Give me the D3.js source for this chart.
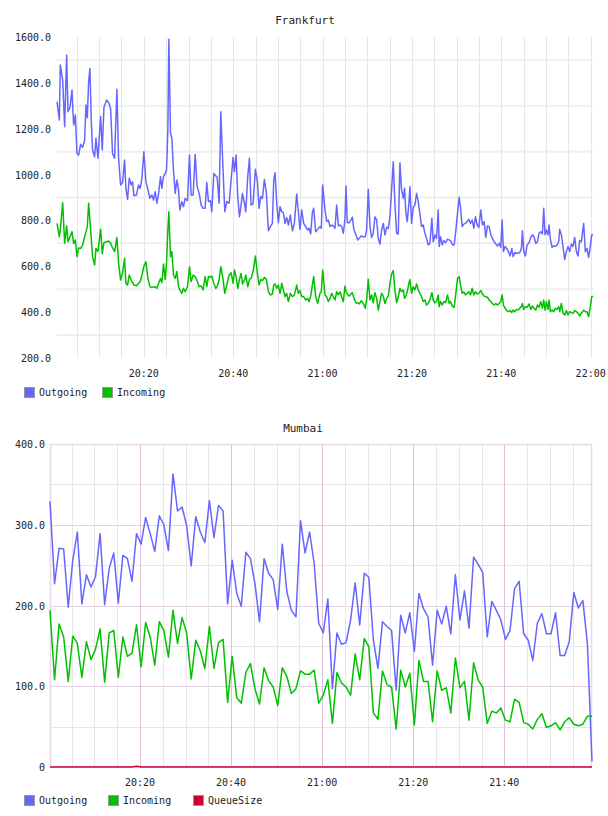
<!DOCTYPE html>
<html>
<head>
<meta charset="utf-8">
<script src="https://cdn.jsdelivr.net/npm/d3@7"></script>
<style>
body { margin: 0; background: #fff; }
text { font-family: "DejaVu Sans Mono", monospace; fill: #222; }
</style>
</head>
<body>
<svg id="chart" width="608" height="816"></svg>
<script>
// ---- Frankfurt: sample time (minutes after 20:00) and rates
const fraMinutes = [
  0.57,1.09,1.31,1.84,2.28,2.73,3.03,3.48,3.92,4.29,
  4.67,5.04,5.41,5.86,6.31,6.75,7.05,7.35,7.65,7.94,
  8.24,8.54,8.99,9.29,9.73,10.33,10.70,11.07,11.67,12.12,
  12.56,13.01,13.46,13.98,14.35,14.80,15.25,15.69,15.99,16.36,
  16.74,17.18,17.48,17.78,18.37,18.82,19.19,19.57,20.01,20.46,
  20.91,21.36,21.80,22.17,22.55,22.92,23.29,23.74,24.04,24.41,
  24.78,25.08,25.38,25.60,25.97,26.27,26.64,27.02,27.39,27.76,
  28.06,28.51,28.88,29.25,29.77,30.22,30.59,31.04,31.49,31.93,
  32.38,32.83,33.27,33.72,34.09,34.47,34.91,35.21,35.66,36.10,
  36.40,36.85,37.22,37.67,38.12,38.56,39.09,39.53,39.98,40.28,
  40.65,41.02,41.40,41.77,42.07,42.51,42.81,43.26,43.63,44.00,
  44.45,44.97,45.42,45.79,46.17,46.54,46.98,47.43,47.88,48.32,
  48.77,49.07,49.37,49.74,50.11,50.48,50.86,51.23,51.60,51.97,
  52.35,52.79,53.24,53.69,54.21,54.58,54.95,55.33,55.77,56.22,
  56.67,56.97,57.34,57.71,58.01,58.46,58.90,59.42,59.72,60.02,
  60.55,60.92,61.29,61.67,62.04,62.41,62.78,63.16,63.53,63.90,
  64.27,64.65,65.02,65.24,65.54,65.99,66.36,66.66,67.03,67.48,
  67.85,68.22,68.67,69.12,69.56,69.86,70.23,70.61,70.98,71.35,
  71.72,72.10,72.47,72.84,73.21,73.59,73.96,74.33,74.70,75.08,
  75.45,75.82,76.19,76.57,76.94,77.31,77.68,78.06,78.35,78.65,
  78.95,79.32,79.55,79.92,80.29,80.66,81.04,81.41,81.78,82.15,
  82.53,82.90,83.27,83.64,84.02,84.46,84.76,85.13,85.51,85.88,
  86.10,86.40,86.77,87.14,87.52,87.96,88.34,88.63,89.08,89.45,
  89.83,90.20,90.57,90.87,91.24,91.61,91.99,92.36,92.73,93.10,
  93.48,93.85,94.22,94.59,94.97,95.41,95.79,96.16,96.53,96.90,
  97.28,97.65,98.02,98.39,98.77,99.14,99.51,99.88,100.18,100.48,
  100.85,101.22,101.60,101.97,102.34,102.64,103.01,103.39,103.76,104.13,
  104.50,104.73,105.02,105.40,105.77,106.22,106.59,106.96,107.33,107.71,
  108.08,108.45,108.82,109.20,109.49,109.79,110.09,110.46,110.69,110.98,
  111.36,111.73,112.10,112.47,112.85,113.07,113.44,113.82,114.19,114.56,
  114.93,115.31,115.68,116.05,116.42,116.80,117.17,117.54,117.91,118.43,
  118.81,119.18,119.55,119.92,120.22,120.52
];
const fraOutgoing = [
  1318,1238,1478,1412,1209,1521,1274,1293,1369,1216,
  1260,1093,1085,1132,1119,1148,1303,1248,1405,1463,
  1231,1107,1078,1158,1071,1253,1107,1293,1325,1314,
  1289,1090,1071,1372,1071,955,965,1064,940,892,
  984,955,969,908,911,955,940,984,1100,969,
  936,896,911,889,925,875,915,991,940,991,
  1005,1020,1194,1590,1180,1158,1020,918,976,936,
  846,882,860,896,886,1085,911,911,1088,947,
  918,867,853,853,965,882,886,838,1005,994,
  991,875,1274,1049,838,882,875,976,1075,1013,
  1085,904,816,867,918,875,838,991,1071,867,
  872,1023,969,853,904,896,979,918,755,773,
  787,976,1008,875,790,860,838,834,787,813,
  780,824,755,787,915,838,761,846,787,773,
  758,766,741,834,853,751,761,773,766,955,
  846,795,802,773,780,776,766,867,776,780,
  773,744,809,950,790,790,802,814,758,737,
  715,722,732,729,729,758,936,773,726,744,
  816,802,722,697,758,787,737,770,765,816,
  933,1056,875,744,741,1052,933,896,940,831,
  795,875,947,787,857,867,918,882,831,773,
  780,744,722,693,700,809,707,737,722,846,
  686,729,693,712,703,718,715,712,693,693,
  758,831,901,857,773,784,787,795,805,787,
  802,766,816,780,770,846,780,795,726,776,
  773,737,722,707,697,689,700,683,802,664,
  686,678,664,645,678,642,660,657,657,660,
  678,755,664,645,693,703,726,737,729,700,
  707,744,751,741,853,737,758,737,780,718,
  683,689,686,693,707,761,737,683,630,664,
  686,664,697,686,726,664,645,712,707,787,
  664,678,639,686,737,737
];
const fraIncoming = [
  787,729,760,877,700,776,707,729,751,700,
  715,642,680,678,693,729,750,773,875,800,
  720,640,606,678,665,761,656,703,707,710,
  700,680,664,726,613,540,572,635,526,518,
  562,540,530,518,515,526,533,560,600,620,
  547,511,508,510,511,504,525,547,529,610,
  543,613,758,838,642,664,562,547,577,511,
  497,482,504,489,511,598,533,562,555,537,
  511,514,497,555,511,555,552,558,526,504,
  511,540,598,552,482,518,562,572,526,584,
  555,504,543,569,523,540,562,511,543,547,
  577,645,569,518,543,537,552,543,489,475,
  479,518,523,504,518,482,526,497,468,482,
  446,482,468,475,518,482,494,468,468,453,
  460,446,470,518,555,468,438,482,489,584,
  475,467,446,460,482,467,453,489,475,489,
  467,446,514,490,478,470,480,485,460,440,
  441,436,450,438,417,453,543,453,475,441,
  485,460,409,446,482,470,438,460,470,526,
  566,581,497,441,467,504,489,497,460,470,
  490,525,543,482,511,497,523,497,482,467,
  446,453,431,438,453,485,453,441,446,475,
  424,446,431,446,441,475,438,446,424,421,
  482,548,555,518,482,489,475,482,489,475,
  504,475,489,479,482,494,479,470,467,465,
  453,446,438,431,438,431,438,446,475,431,
  417,407,402,407,398,409,402,412,409,417,
  424,438,412,424,421,436,412,427,417,409,
  431,421,446,417,453,409,446,412,453,402,
  409,402,417,412,424,402,438,395,388,407,
  388,402,398,395,407,402,395,383,395,409,
  402,402,380,424,467,470
];
const fraYTicks = [200, 400, 600, 800, 1000, 1200, 1400, 1600];
const fraYGrid = [300, 500, 700, 900, 1100, 1300, 1500];

// ---- Mumbai: one sample per minute starting 20:00:15
const mumStartMinute = 0.25;
const mumOutgoing = [
  329,227,271,270,198,256,291,202,238,223,
  236,289,201,246,265,203,262,258,230,289,
  276,309,289,267,311,300,268,363,317,322,
  299,249,310,291,278,330,284,324,317,202,
  256,215,199,266,258,227,180,258,240,232,
  195,276,217,194,186,305,265,291,252,
  178,166,208,97,166,152,154,182,228,176,
  240,235,157,122,180,174,169,95,188,166,
  191,143,215,196,186,126,194,177,199,165,
  238,182,218,172,260,251,241,161,205,194,
  182,158,169,221,230,165,157,132,178,190,
  165,165,191,138,138,155,216,197,206,152,
  7
];
const mumIncoming = [
  194,108,177,161,106,162,153,111,155,133,
  146,171,105,166,169,111,161,137,141,176,
  124,179,161,126,180,169,136,194,153,185,
  166,109,157,144,122,174,122,154,158,80,
  137,86,79,117,128,97,78,123,107,99,
  76,123,112,91,97,119,115,115,120,
  79,89,108,54,117,104,99,89,140,108,
  159,149,67,59,119,102,99,47,120,99,
  116,52,132,106,106,56,119,95,98,67,
  135,98,106,58,129,108,99,54,69,67,
  73,58,56,84,80,55,53,47,59,66,
  49,51,55,46,56,61,53,51,53,63,
  63
];
const mumQueue = [
  0,0,0,0,0,0,0,0,0,0, 0,0,0,0,0,0,0,0,0,1,
  0,0,0,0,0,0,0,0,0,0, 0,0,0,0,0,0,0,0,0,0,
  0,0,0,0,0,0,0,0,0,0, 0,0,0,0,0,0,0,0,0,0,
  0,0,0,0,0,0,0,0,0,0, 0,0,0,0,0,0,0,0,0,0,
  0,0,0,0,0,0,0,0,0,0, 0,0,0,0,0,0,0,0,0,0,
  0,0,0,0,0,0,0,0,0,0, 0,0,0,0,0,0,0,0,0,0
];
const mumYTicks = [0, 100, 200, 300, 400];
const mumYGrid = [50, 100, 150, 200, 250, 300, 350];

const colors = { Outgoing: "#6666ff", Incoming: "#00c000", QueueSize: "#cc0033" };

const svg = d3.select("#chart");
const base = new Date(2013, 0, 1, 20, 0, 0);
const atMin = m => new Date(+base + m * 60000);
const fmtTime = d3.timeFormat("%H:%M");

function legend(y, items) {
  const g = svg.append("g").attr("transform", `translate(0,${y})`);
  items.forEach(it => {
    g.append("rect")
      .attr("x", it.x + 0.5).attr("y", 0.5)
      .attr("width", 10).attr("height", 10)
      .attr("fill", colors[it.name])
      .attr("stroke", "#999");
    g.append("text")
      .attr("x", it.x + 15).attr("y", 9)
      .attr("font-size", 10)
      .text(it.name);
  });
}

// ================= Frankfurt
{
  const times = fraMinutes.map(atMin);
  const x = d3.scaleTime().domain(d3.extent(times)).range([57, 593]);
  const y = d3.scaleLinear().domain([200, 1600]).range([358, 37]);

  svg.append("text")
    .attr("x", 305).attr("y", 24)
    .attr("text-anchor", "middle")
    .attr("font-size", 11)
    .text("Frankfurt");

  const grid = svg.append("g");
  grid.selectAll(".h").data(fraYGrid).enter().append("line")
    .attr("x1", 57).attr("x2", 593)
    .attr("y1", d => y(d)).attr("y2", d => y(d))
    .attr("stroke", "#efefef").attr("stroke-width", 2);
  grid.selectAll(".v").data(x.ticks(d3.timeMinute.every(5))).enter().append("line")
    .attr("x1", d => Math.round(x(d)) + 0.5).attr("x2", d => Math.round(x(d)) + 0.5)
    .attr("y1", 37).attr("y2", 358)
    .attr("stroke", "#e6e6e6");

  svg.append("g").selectAll("text").data(fraYTicks).enter().append("text")
    .attr("x", 51).attr("y", d => y(d) + 4)
    .attr("text-anchor", "end")
    .attr("font-size", 10)
    .text(d3.format(".1f"));

  svg.append("g").selectAll("text").data(x.ticks(d3.timeMinute.every(20))).enter().append("text")
    .attr("x", d => x(d)).attr("y", 377)
    .attr("text-anchor", "middle")
    .attr("font-size", 10)
    .text(fmtTime);

  [["Outgoing", fraOutgoing], ["Incoming", fraIncoming]].forEach(([name, vals]) => {
    svg.append("path")
      .datum(vals)
      .attr("fill", "none")
      .attr("stroke", colors[name])
      .attr("stroke-width", 1.5)
      .attr("stroke-linejoin", "round")
      .attr("d", d3.line().x((d, i) => x(times[i])).y(d => y(d)));
  });

  legend(387, [{ name: "Outgoing", x: 24 }, { name: "Incoming", x: 102 }]);
}

// ================= Mumbai
{
  const times = mumOutgoing.map((d, i) => atMin(mumStartMinute + i));
  const x = d3.scaleTime().domain(d3.extent(times)).range([50, 592]);
  const y = d3.scaleLinear().domain([0, 400]).range([767, 444]);

  svg.append("text")
    .attr("x", 303).attr("y", 432)
    .attr("text-anchor", "middle")
    .attr("font-size", 11)
    .text("Mumbai");

  const grid = svg.append("g");
  grid.selectAll(".h").data(mumYGrid).enter().append("line")
    .attr("x1", 50).attr("x2", 592)
    .attr("y1", d => Math.round(y(d)) + 0.5).attr("y2", d => Math.round(y(d)) + 0.5)
    .attr("stroke", d => d % 100 === 0 ? "#e6d0e6" : "#e8e6e8");
  grid.selectAll(".v").data(x.ticks(d3.timeMinute.every(5))).enter().append("line")
    .attr("x1", d => Math.round(x(d)) + 0.5).attr("x2", d => Math.round(x(d)) + 0.5)
    .attr("y1", 444).attr("y2", 767)
    .attr("stroke", d => d.getMinutes() % 20 === 0 ? "#dcc0dc" : "#e8e6e8");
  grid.append("rect")
    .attr("x", 50.5).attr("y", 444.5)
    .attr("width", 541).attr("height", 322)
    .attr("fill", "none")
    .attr("stroke", "#ead8ea").attr("stroke-width", 1.5);

  svg.append("g").selectAll("text").data(mumYTicks).enter().append("text")
    .attr("x", 45).attr("y", d => y(d) + 4)
    .attr("text-anchor", "end")
    .attr("font-size", 10)
    .text(d => d === 0 ? "0" : d3.format(".1f")(d));

  svg.append("g").selectAll("text").data(x.ticks(d3.timeMinute.every(20))).enter().append("text")
    .attr("x", d => x(d)).attr("y", 786)
    .attr("text-anchor", "middle")
    .attr("font-size", 10)
    .text(fmtTime);

  [["Outgoing", mumOutgoing], ["Incoming", mumIncoming], ["QueueSize", mumQueue]].forEach(([name, vals]) => {
    svg.append("path")
      .datum(vals)
      .attr("fill", "none")
      .attr("stroke", colors[name])
      .attr("stroke-width", 1.5)
      .attr("stroke-linejoin", "round")
      .attr("d", d3.line().x((d, i) => x(times[i])).y(d => y(d)));
  });

  legend(795, [{ name: "Outgoing", x: 24 }, { name: "Incoming", x: 108 }, { name: "QueueSize", x: 193 }]);
}
</script>
</body>
</html>
